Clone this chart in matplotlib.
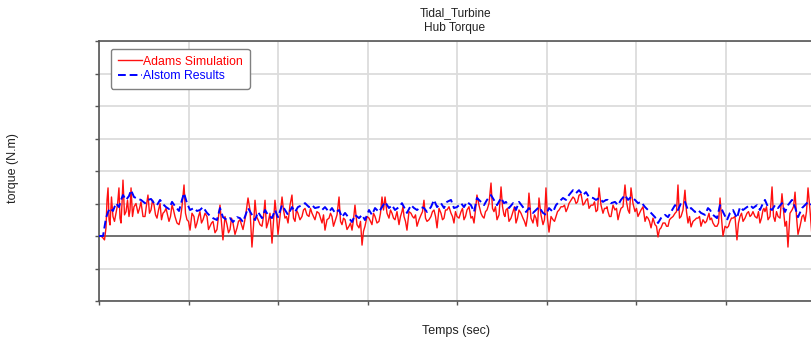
import matplotlib
matplotlib.use("Agg")
import matplotlib.pyplot as plt
import numpy as np

plt.rcParams['font.family'] = ['Liberation Sans', 'DejaVu Sans']

title_lines = ["Tidal_Turbine", "Hub Torque"]
x_label = "Temps (sec)"
y_label = "torque (N.m)"
series_names = ["Adams Simulation", "Alstom Results"]

# time (s)
time = [0.0, 0.45, 0.78, 1.01, 1.23, 1.56, 1.90, 2.23, 2.46, 2.68, 3.02, 3.35, 3.58, 3.91,
        4.36, 4.69, 5.14, 5.47, 5.81, 6.15, 6.48, 6.82, 7.15, 7.49, 7.82, 8.16, 8.49, 8.94,
        9.27, 9.50, 9.83, 10.17, 10.61, 10.95, 11.28, 11.62, 12.07, 12.40, 12.74, 13.18,
        13.52, 13.85, 14.30, 14.64, 14.97, 15.42, 15.75, 16.09, 16.65, 17.09, 17.43, 17.77,
        18.21, 18.55, 18.88, 19.33, 19.66, 20.00, 20.45, 20.78, 21.12, 21.56, 21.90, 22.23,
        22.68, 23.02, 23.46, 23.80, 24.13, 24.58, 24.92, 25.25, 25.70, 26.03, 26.37, 26.82,
        27.15, 27.49, 27.93, 28.27, 28.60, 29.05, 29.39, 29.72, 30.17, 30.50, 30.84, 31.28,
        31.62, 31.96, 32.40, 32.74, 33.07, 33.52, 33.85, 34.08, 34.41, 34.86, 35.20, 35.53,
        35.98, 36.31, 36.65, 37.09, 37.43, 37.77, 38.21, 38.55, 38.88, 39.33, 39.66, 40.00,
        40.45, 40.78, 41.12, 41.56, 41.90, 42.23, 42.68, 43.02, 43.35, 43.80, 44.13, 44.47,
        44.92, 45.25, 45.47, 45.81, 46.26, 46.59, 46.93, 47.37, 47.71, 48.04, 48.49, 48.83,
        49.16, 49.61, 49.94, 50.28, 50.73, 51.06, 51.40, 51.84, 52.18, 52.51, 52.96, 53.30,
        53.63, 54.08, 54.41, 54.75, 55.20, 55.53, 55.87, 56.31, 56.65, 56.87, 57.21, 57.65,
        57.99, 58.32, 58.77, 59.11, 59.44, 59.89, 60.22, 60.56, 61.01, 61.34, 61.68, 62.12,
        62.46, 62.79, 63.24, 63.58, 63.91, 64.36, 64.69, 65.03, 65.47, 65.81, 66.15, 66.59,
        66.93, 67.26, 67.71, 68.04, 68.27, 68.60, 69.05, 69.39, 69.72, 70.17, 70.50, 70.84,
        71.28, 71.62, 71.96, 72.40, 72.74, 73.07, 73.52, 73.85, 74.19, 74.41, 74.75, 75.20,
        75.53, 75.87, 76.31, 76.65, 76.98, 77.43, 77.77, 78.10, 78.55, 78.88, 79.22, 79.66]

# Alstom results (torque)
alstom = [0, 0, 55, 74, 86, 77, 101, 89, 111, 126, 111, 123, 141, 120,
          114, 111, 101, 111, 114, 101, 95, 111, 98, 89, 83, 105, 92, 77,
          111, 132, 101, 80, 86, 77, 80, 89, 71, 62, 55, 49,
          86, 58, 49, 55, 43, 58, 55, 43, 86, 65, 49, 74,
          55, 80, 65, 55, 80, 58, 95, 80, 65, 89, 74, 89,
          95, 101, 89, 95, 86, 89, 80, 89, 74, 86, 71, 80,
          58, 71, 55, 43, 65, 55, 65, 49, 80, 65, 86, 74,
          89, 105, 86, 95, 80, 89, 101, 89, 71, 95, 86, 80,
          89, 86, 74, 89, 111, 89, 101, 86, 105, 111, 86, 89,
          101, 89, 105, 95, 74, 117, 105, 95, 111, 126, 111, 95,
          117, 101, 105, 86, 101, 80, 105, 89, 74, 86, 71, 80,
          89, 71, 65, 86, 74, 95, 105, 117, 111, 126, 141, 132,
          141, 126, 135, 120, 117, 111, 117, 105, 111, 111, 101, 105,
          95, 111, 126, 111, 120, 111, 101, 105, 89, 80, 71, 58,
          40, 55, 65, 58, 74, 95, 80, 101, 105, 80, 86, 74,
          80, 71, 65, 86, 80, 65, 55, 95, 74, 49, 71, 80,
          55, 89, 80, 89, 95, 86, 95, 80, 101, 111, 89, 80,
          95, 86, 101, 74, 95, 111, 89, 58, 86, 95, 105, 95]

# Adams simulation (torque) at the same instants
adams = [0, -6, 25, 148, 34, 60, 70, 148, 40, 172, 75, 60, 148, 90,
         70, 105, 60, 126, 80, 95, 55, 100, 70, 85, 45, 95, 60, 35,
         90, 157, 50, 18, 60, 40, 75, 50, 60, 30, 45, 20,
         95, -12, 35, 20, 40, 25, 50, 20, 117, -34, 110, 50,
         30, 110, 40, -22, 110, 5, 120, 55, 40, 126, 45, 70,
         60, 85, 60, 70, 50, 70, 40, 18, 55, 60, 45, 120,
         35, 50, 30, 18, 95, 25, -28, 30, 55, 35, 60, 45,
         120, 120, 55, 70, 50, 35, 75, 60, 18, 70, 55, 30,
         65, 110, 45, 60, 80, 25, 70, 55, 80, 70, 40, 60,
         75, 50, 80, 55, 40, 126, 70, 55, 80, 163, 75, 50,
         151, 65, 80, 45, 75, 40, 80, 55, 30, 132, 40, 55,
         117, 35, 148, 12, 50, 60, 80, 90, 75, 100, 120, 100,
         125, 95, 110, 85, 95, 75, 148, 70, 85, 75, 60, 80,
         50, 85, 157, 80, 148, 75, 60, 80, 45, 55, 25, 35,
         -3, 25, 40, 30, 55, 70, 157, 60, 141, 40, 28, 50,
         55, 30, 40, 60, 50, 40, 30, 117, 0, 25, 45, 55,
         -12, 60, 45, 70, 60, 75, 55, 40, 80, 75, 50, 151,
         45, 60, 130, 30, -34, 80, 135, 5, 60, 45, 148, 0]

# Adams simulation (torque) halfway between consecutive instants
adams_mid = [0, -12, 110, 50, 120, 45, 95, 55, 100, 65, 110, 80, 60, 100,
             85, 60, 95, 70, 110, 65, 80, 50, 75, 65, 60, 80, 40, 55,
             125, 70, 45, 70, 25, 60, 40, 70, 20, 40, 10, 60,
             40, 60, 10, 55, 5, 45, 35, 60, 80, 30, 60, 35,
             60, 25, 70, 45, 65, 60, 80, 60, 95, 55, 80, 50,
             80, 65, 85, 60, 75, 55, 65, 50, 70, 30, 65, 45,
             55, 20, 40, 50, 35, 45, 15, 60, 45, 70, 40, 70,
             80, 70, 80, 55, 75, 60, 90, 45, 75, 60, 65, 50,
             75, 55, 50, 75, 60, 85, 50, 80, 90, 60, 75, 55,
             85, 60, 90, 60, 80, 95, 60, 75, 100, 85, 90, 65,
             90, 60, 85, 55, 90, 55, 70, 45, 60, 55, 65, 30,
             65, 50, 55, 60, 45, 75, 90, 95, 85, 110, 115, 105,
             130, 100, 115, 95, 105, 80, 95, 85, 90, 60, 95, 85,
             70, 90, 105, 70, 100, 85, 70, 90, 60, 45, 55, 30,
             20, 40, 30, 50, 60, 75, 55, 80, 75, 60, 45, 55,
             60, 50, 45, 70, 55, 30, 40, 55, 30, 30, 55, 60,
             40, 70, 55, 75, 65, 60, 75, 55, 85, 90, 60, 60,
             75, 55, 80, 45, 70, 90, 60, 30, 65, 75, 80]

x_ticks = [0, 10, 20, 30, 40, 50, 60, 70, 80]
y_ticks = [-200, -100, 0, 100, 200, 300, 400, 500, 600]

# merge the two Adams sample sets into one time-ordered series
t_arr = np.asarray(time, dtype=float)
red_t = np.empty(2 * len(t_arr) - 1)
red_t[0::2] = t_arr
red_t[1::2] = (t_arr[:-1] + t_arr[1:]) / 2
red_v = np.empty_like(red_t)
red_v[0::2] = adams
red_v[1::2] = adams_mid

W, H = 812, 343
fig = plt.figure(figsize=(W / 100, H / 100), dpi=100)
ax = fig.add_axes([99 / W, (H - 301) / H, (815 - 99) / W, (301 - 41) / H])

ax.set_xlim(x_ticks[0], x_ticks[-1])
ax.set_ylim(y_ticks[0], y_ticks[-1])
ax.set_xticks(x_ticks)
ax.set_yticks(y_ticks)
ax.set_xticklabels([])
ax.set_yticklabels([])
ax.tick_params(axis='both', direction='out', length=3, width=1, color='#555555')
ax.grid(True, color='#dcdcdc', linewidth=1.3)
ax.set_axisbelow(True)
for side in ['left', 'bottom', 'top']:
    ax.spines[side].set_color('#555555')
    ax.spines[side].set_linewidth(1.2)
ax.spines['right'].set_visible(False)
ax.axhline(0, color='#707070', linewidth=1.4, zorder=1.5)

ax.plot(red_t, red_v, color='#ff1010', linewidth=1.0, label=series_names[0], zorder=2)
ax.plot(time, alstom, color='#0000ff', linewidth=1.4, linestyle=(0, (4, 2)),
        label=series_names[1], zorder=3)

leg = ax.legend(loc='upper left', bbox_to_anchor=((111 - 99) / (815 - 99), (301 - 49) / 260),
                borderaxespad=0, fontsize=8.8, handlelength=2.0, handletextpad=0.1,
                borderpad=0.55, labelspacing=0.2, fancybox=True, framealpha=1,
                edgecolor='#808080')
leg.get_frame().set_linewidth(1.0)
for txt, col in zip(leg.get_texts(), ['#ff0000', '#0000ff']):
    txt.set_color(col)

fig.text(455 / W, 1 - 13 / H, title_lines[0], ha='center', va='center', fontsize=8.6, color='#222222')
fig.text(455 / W, 1 - 28 / H, title_lines[1], ha='center', va='center', fontsize=8.6, color='#222222')
fig.text(456 / W, 1 - 331 / H, x_label, ha='center', va='center', fontsize=9, color='#222222')
fig.text(13 / W, 1 - 168 / H, y_label, ha='center', va='center', rotation=90, fontsize=9, color='#222222')

fig.savefig("out.png", dpi=100)
